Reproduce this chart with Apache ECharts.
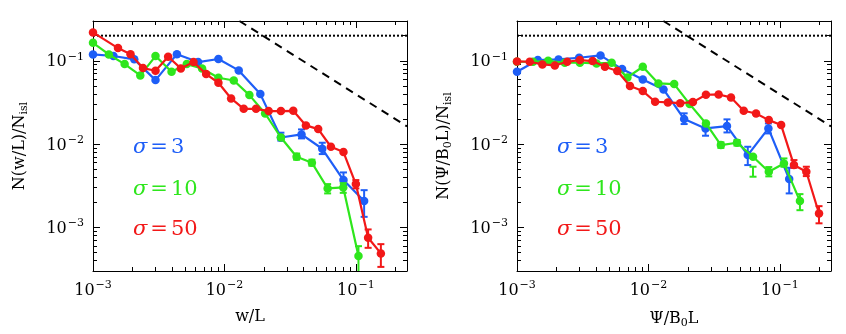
<!DOCTYPE html>
<html>
<head>
<meta charset="utf-8">
<script src="https://cdn.jsdelivr.net/npm/echarts@6/dist/echarts.min.js"></script>
<style>
html,body{margin:0;padding:0;background:#fff}
#main{width:846px;height:334px}
</style>
</head>
<body>
<div id="main"></div>
<script>
// ---- left panel : N(w/L)/N_isl ----
var wBlueX  = [0.001, 0.00143, 0.00206, 0.00299, 0.00435, 0.00631, 0.0090, 0.01285, 0.01876, 0.0269, 0.0386, 0.0555, 0.0805, 0.1156];
var wBlueY  = [0.119, 0.114, 0.104, 0.0586, 0.120, 0.0964, 0.105, 0.0766, 0.0398, 0.0120, 0.01306, 0.00879, 0.0037, 0.00207];
var wGreenX = [0.001, 0.00132, 0.00174, 0.00229, 0.00299, 0.00396, 0.00517, 0.00676, 0.0090, 0.01178, 0.01549, 0.0204, 0.0269, 0.0354, 0.0463, 0.061, 0.0802, 0.1047];
var wGreenY = [0.164, 0.119, 0.0912, 0.0667, 0.1138, 0.0738, 0.0912, 0.0809, 0.0625, 0.058, 0.0387, 0.0233, 0.0120, 0.00705, 0.00597, 0.00294, 0.00302, 0.000453];
var wRedX   = [0.001, 0.00155, 0.00193, 0.0024, 0.00299, 0.00373, 0.00466, 0.00582, 0.00726, 0.0090, 0.01124, 0.01402, 0.0174, 0.0217, 0.0269, 0.0334, 0.0417, 0.0517, 0.0646, 0.0805, 0.1, 0.124, 0.155];
var wRedY   = [0.219, 0.142, 0.120, 0.0817, 0.0759, 0.1117, 0.0809, 0.0964, 0.0692, 0.0545, 0.0353, 0.0265, 0.0265, 0.0249, 0.0249, 0.0251, 0.01675, 0.01514, 0.00929, 0.00802, 0.00331, 0.000752, 0.000488];
// error bars: [point index, low, high]
var wBlueErr  = [[9, 0.0110, 0.0137], [10, 0.0117, 0.0150], [11, 0.00759, 0.01038], [12, 0.00322, 0.00457], [13, 0.00134, 0.0028]];
var wGreenErr = [[13, 0.0065, 0.0077], [14, 0.0055, 0.0065], [15, 0.00256, 0.00331], [16, 0.0026, 0.0034], [17, 0.0001, 0.000596]];
var wRedErr   = [[20, 0.00294, 0.0037], [21, 0.000569, 0.000946], [22, 0.000336, 0.00063]];

// ---- right panel : N(Psi/B0L)/N_isl ----
var pBlueX  = [0.001, 0.00144, 0.00207, 0.00297, 0.00432, 0.0063, 0.00906, 0.01303, 0.0187, 0.0272, 0.0396, 0.057, 0.0818, 0.1178];
var pBlueY  = [0.0738, 0.102, 0.1038, 0.1087, 0.116, 0.0794, 0.0597, 0.0453, 0.01995, 0.01542, 0.01644, 0.00738, 0.01542, 0.0038];
var pGreenX = [0.001, 0.001324, 0.001726, 0.00231, 0.00301, 0.00403, 0.00525, 0.00692, 0.00906, 0.01191, 0.0157, 0.0206, 0.0274, 0.0356, 0.0472, 0.0625, 0.0824, 0.1074, 0.1422];
var pGreenY = [0.0973, 0.0973, 0.100, 0.0946, 0.0946, 0.0929, 0.0946, 0.0631, 0.0847, 0.0535, 0.0525, 0.0302, 0.0177, 0.00973, 0.01038, 0.00705, 0.00466, 0.00586, 0.00207];
var pRedX   = [0.001, 0.00125, 0.00156, 0.00194, 0.00241, 0.00301, 0.00376, 0.00467, 0.0058, 0.00724, 0.00906, 0.01125, 0.01406, 0.01746, 0.0218, 0.0274, 0.0342, 0.0425, 0.0531, 0.0659, 0.0824, 0.1023, 0.128, 0.159, 0.1986];
var pRedY   = [0.0982, 0.0973, 0.0904, 0.0879, 0.0973, 0.102, 0.0991, 0.0847, 0.0752, 0.0497, 0.0433, 0.0322, 0.0316, 0.031, 0.0319, 0.0391, 0.0394, 0.0363, 0.0251, 0.0233, 0.0194, 0.0169, 0.0056, 0.00466, 0.00147];
var pBlueErr  = [[8, 0.0174, 0.0234], [9, 0.0126, 0.0169], [10, 0.0138, 0.0198], [11, 0.0056, 0.00929], [12, 0.01343, 0.0177], [13, 0.00256, 0.0052]];
var pGreenErr = [[13, 0.0090, 0.0105], [14, 0.0096, 0.0112], [15, 0.00406, 0.00535], [16, 0.0041, 0.0053], [17, 0.00535, 0.00673], [18, 0.00161, 0.00251]];
var pRedErr   = [[22, 0.0052, 0.00643], [23, 0.00413, 0.00535], [24, 0.00112, 0.0018]];

// reference lines
var dotY  = 0.2;
var dashX = [0.013, 0.245];
var dashY = [0.30, 0.0163];

var xMin = 0.001, xMax = 0.245, yMin = 0.0003, yMax = 0.3;
var majorX = [0.001, 0.01, 0.1];
var majorY = [0.001, 0.01, 0.1];

var BLUE = '#1e5ef7', GREEN = '#2ee61c', RED = '#f21818';
var FONT = 'DejaVu Serif';

function minorTicks(lo, hi) {
  var out = [];
  for (var d = -4; d <= 0; d++) {
    for (var m = 2; m <= 9; m++) {
      var v = m * Math.pow(10, d);
      if (v > lo * 1.0001 && v < hi * 0.9999) out.push(v);
    }
  }
  return out;
}
var minorX = minorTicks(xMin, xMax);
var minorY = minorTicks(yMin, yMax);

var labelRich = {
  b: {fontFamily: FONT, fontSize: 16, color: '#000', verticalAlign: 'bottom'},
  s: {fontFamily: FONT, fontSize: 11, color: '#000', verticalAlign: 'bottom', padding: [0, 0, 8, 1]}
};
function powLabel(v) {
  var e = Math.round(Math.log10(v));
  return '{b|10}{s|\u2212' + Math.abs(e) + '}';
}
var nameStyle = {fontFamily: FONT, fontSize: 16, color: '#000',
  rich: {u: {fontFamily: FONT, fontSize: 11, color: '#000', verticalAlign: 'top', padding: [9, 0, 0, 0]}}};

function xAxes(grid, name) {
  var base = {gridIndex: grid, type: 'log', logBase: 10, min: xMin, max: xMax, splitLine: {show: false}};
  return [
    Object.assign({}, base, {position: 'bottom',
      axisLine: {show: true, lineStyle: {color: '#000', width: 1}},
      axisTick: {inside: true, length: 7, customValues: majorX, lineStyle: {color: '#000'}},
      axisLabel: {customValues: majorX, formatter: powLabel, rich: labelRich, margin: 9},
      name: name, nameLocation: 'middle', nameGap: 38, nameTextStyle: nameStyle
    }),
    Object.assign({}, base, {position: 'bottom', axisLine: {show: false},
      axisTick: {inside: true, length: 4, customValues: minorX, lineStyle: {color: '#000'}}, axisLabel: {show: false}}),
    Object.assign({}, base, {position: 'top', axisLine: {show: true, lineStyle: {color: '#000', width: 1}},
      axisTick: {inside: true, length: 7, customValues: majorX, lineStyle: {color: '#000'}}, axisLabel: {show: false}}),
    Object.assign({}, base, {position: 'top', axisLine: {show: false},
      axisTick: {inside: true, length: 4, customValues: minorX, lineStyle: {color: '#000'}}, axisLabel: {show: false}})
  ];
}
function yAxes(grid, name) {
  var base = {gridIndex: grid, type: 'log', logBase: 10, min: yMin, max: yMax, splitLine: {show: false}};
  return [
    Object.assign({}, base, {position: 'left',
      axisLine: {show: true, lineStyle: {color: '#000', width: 1}},
      axisTick: {inside: true, length: 7, customValues: majorY, lineStyle: {color: '#000'}},
      axisLabel: {customValues: majorY, formatter: powLabel, rich: labelRich, margin: 9},
      name: name, nameLocation: 'middle', nameGap: 63, nameRotate: 90, nameTextStyle: nameStyle
    }),
    Object.assign({}, base, {position: 'left', axisLine: {show: false},
      axisTick: {inside: true, length: 4, customValues: minorY, lineStyle: {color: '#000'}}, axisLabel: {show: false}}),
    Object.assign({}, base, {position: 'right', axisLine: {show: true, lineStyle: {color: '#000', width: 1}},
      axisTick: {inside: true, length: 7, customValues: majorY, lineStyle: {color: '#000'}}, axisLabel: {show: false}}),
    Object.assign({}, base, {position: 'right', axisLine: {show: false},
      axisTick: {inside: true, length: 4, customValues: minorY, lineStyle: {color: '#000'}}, axisLabel: {show: false}})
  ];
}

function zip(xs, ys) {
  return xs.map(function (x, i) { return [x, ys[i]]; });
}
function errData(xs, errs) {
  return errs.map(function (e) { return [xs[e[0]], e[1], e[2]]; });
}
function renderErr(params, api) {
  var x = api.value(0);
  var top = api.coord([x, api.value(2)]);
  var bot = api.coord([x, api.value(1)]);
  var c = 3.5;
  var st = {stroke: api.visual('color'), lineWidth: 2};
  return {type: 'group', children: [
    {type: 'line', shape: {x1: top[0], y1: top[1], x2: bot[0], y2: bot[1]}, style: st},
    {type: 'line', shape: {x1: top[0] - c, y1: top[1], x2: top[0] + c, y2: top[1]}, style: st},
    {type: 'line', shape: {x1: bot[0] - c, y1: bot[1], x2: bot[0] + c, y2: bot[1]}, style: st}
  ]};
}

function panelSeries(grid, sets) {
  var ax = grid * 4;
  var out = [
    {type: 'line', xAxisIndex: ax, yAxisIndex: ax, data: [[xMin, dotY], [xMax, dotY]], symbol: 'none',
      lineStyle: {color: '#000', width: 2, type: [2, 2]}, z: 1},
    {type: 'line', xAxisIndex: ax, yAxisIndex: ax, data: zip(dashX, dashY), symbol: 'none', clip: true,
      lineStyle: {color: '#000', width: 2, type: [8, 6]}, z: 1}
  ];
  sets.forEach(function (s, k) {
    out.push({type: 'custom', xAxisIndex: ax, yAxisIndex: ax, data: errData(s.x, s.err), clip: true,
      renderItem: renderErr, itemStyle: {color: s.color}, z: 2 + k});
    out.push({type: 'line', xAxisIndex: ax, yAxisIndex: ax, data: zip(s.x, s.y), clip: true,
      symbol: 'circle', symbolSize: 8.5, showAllSymbol: true,
      lineStyle: {color: s.color, width: 2.2}, itemStyle: {color: s.color}, z: 2 + k});
  });
  return out;
}

// zrender rich tokens take a css font string
function sigmaText(left, top, txt, color) {
  var up = '21px "' + FONT + '", serif';
  return {type: 'text', left: left, top: top, style: {
    text: '{i|\u03c3}{e|=}{n|' + txt + '}',
    font: up, fill: color,
    rich: {
      i: {font: 'italic ' + up, fill: color},
      e: {font: up, fill: color, padding: [0, 3, 0, 3]},
      n: {font: up, fill: color}
    }
  }};
}

var chart = echarts.init(document.getElementById('main'), null, {renderer: 'canvas'});
chart.setOption({
  animation: false,
  backgroundColor: '#fff',
  grid: [
    {left: 93, top: 21, width: 314, height: 250},
    {left: 517, top: 21, width: 314, height: 250}
  ],
  xAxis: xAxes(0, 'w/L').concat(xAxes(1, '\u03a8/B{u|0}L')),
  yAxis: yAxes(0, 'N(w/L)/N{u|isl}').concat(yAxes(1, 'N(\u03a8/B{u|0}L)/N{u|isl}')),
  series: panelSeries(0, [
    {x: wBlueX, y: wBlueY, err: wBlueErr, color: BLUE},
    {x: wGreenX, y: wGreenY, err: wGreenErr, color: GREEN},
    {x: wRedX, y: wRedY, err: wRedErr, color: RED}
  ]).concat(panelSeries(1, [
    {x: pBlueX, y: pBlueY, err: pBlueErr, color: BLUE},
    {x: pGreenX, y: pGreenY, err: pGreenErr, color: GREEN},
    {x: pRedX, y: pRedY, err: pRedErr, color: RED}
  ])),
  graphic: [
    sigmaText(133, 137, '3', BLUE),
    sigmaText(133, 179, '10', GREEN),
    sigmaText(133, 219, '50', RED),
    sigmaText(557, 137, '3', BLUE),
    sigmaText(557, 179, '10', GREEN),
    sigmaText(557, 219, '50', RED)
  ]
});
</script>
</body>
</html>
